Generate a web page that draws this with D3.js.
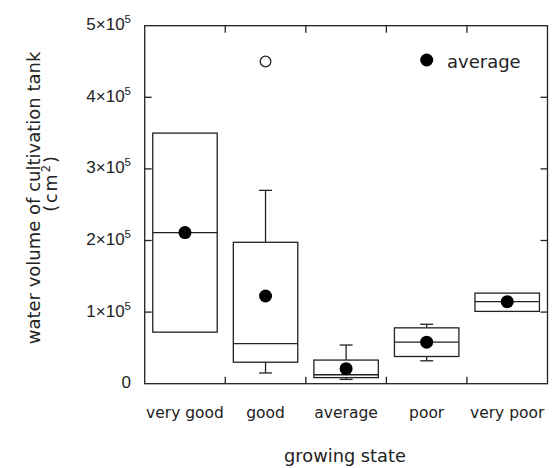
<!DOCTYPE html>
<html>
<head>
<meta charset="utf-8">
<script src="https://cdn.jsdelivr.net/npm/d3@7"></script>
<style>
  body { margin: 0; background: #fff; }
  svg text { fill: #222; }
</style>
</head>
<body>
<div id="chart"></div>
<script>
// data
var categories = ["very good", "good", "average", "poor", "very poor"];
var q1 = [72000, 30000, 8500, 38000, 101000];
var medians = [211000, 56000, 12500, 58000, 114500];
var q3 = [350000, 197500, 33000, 78000, 126500];
var whiskerLow = [72000, 15000, 6000, 32000, 101000];
var whiskerHigh = [350000, 270000, 54000, 83000, 126500];
var means = [211000, 122500, 21000, 58000, 114500];
var outlierCats = ["good"];
var outlierValues = [450000];
var yTicks = [0, 100000, 200000, 300000, 400000, 500000];

var W = 553, H = 468;
var margin = {t: 25.7, r: 5.5, b: 84.3, l: 144.7};
var width = W - margin.l - margin.r,
    height = H - margin.t - margin.b;

var svg = d3.select('#chart').append('svg')
    .attr('width', W).attr('height', H);

var plot = svg.append('g')
    .attr('transform', 'translate(' + margin.l + ',' + margin.t + ')');

var scaleX = d3.scaleBand().domain(categories).range([0, width]);
var scaleY = d3.scaleLinear().domain([0, 500000]).range([height, 0]);

var ink = '#222', sw = 1.3, tickLen = 7;
var boxW = scaleX.bandwidth() * 0.8, capW = 13;

// frame
plot.append('rect')
    .attr('width', width).attr('height', height)
    .attr('fill', 'none').attr('stroke', ink).attr('stroke-width', sw);

// inner ticks left/right
var innerY = yTicks.filter(function(d){ return d > 0 && d < 500000; });
plot.selectAll('.ytl').data(innerY).enter().append('line')
    .attr('x1', 0).attr('x2', tickLen)
    .attr('y1', scaleY).attr('y2', scaleY)
    .attr('stroke', ink).attr('stroke-width', sw);
plot.selectAll('.ytr').data(innerY).enter().append('line')
    .attr('x1', width).attr('x2', width - tickLen)
    .attr('y1', scaleY).attr('y2', scaleY)
    .attr('stroke', ink).attr('stroke-width', sw);

// ticks between categories top/bottom
var bounds = categories.slice(1).map(function(c){ return scaleX(c); });
plot.selectAll('.xtb').data(bounds).enter().append('line')
    .attr('x1', function(d){ return d; }).attr('x2', function(d){ return d; })
    .attr('y1', height).attr('y2', height - tickLen)
    .attr('stroke', ink).attr('stroke-width', sw);
plot.selectAll('.xtt').data(bounds).enter().append('line')
    .attr('x1', function(d){ return d; }).attr('x2', function(d){ return d; })
    .attr('y1', 0).attr('y2', tickLen)
    .attr('stroke', ink).attr('stroke-width', sw);

// y tick labels
var yl = svg.append('g').attr('font-family', 'Liberation Sans, Arial, sans-serif');
yTicks.forEach(function(v) {
    var t = yl.append('text')
        .attr('x', 131).attr('y', margin.t + scaleY(v) + 4.5)
        .attr('text-anchor', 'end').attr('font-size', 17);
    if (v === 0) { t.text('0'); return; }
    t.append('tspan').text((v / 100000) + '\u00d710');
    t.append('tspan').attr('font-size', 11.5).attr('dy', -7).text('5');
});

// category labels
svg.append('g').selectAll('text').data(categories).enter().append('text')
    .attr('x', function(d){ return margin.l + scaleX(d) + scaleX.bandwidth() / 2; })
    .attr('y', 418)
    .attr('text-anchor', 'middle')
    .attr('font-family', 'DejaVu Sans, sans-serif').attr('font-size', 15.5)
    .text(function(d){ return d; });

// axis titles
svg.append('text')
    .attr('x', 345).attr('y', 461.5)
    .attr('text-anchor', 'middle')
    .attr('font-family', 'DejaVu Sans, sans-serif').attr('font-size', 17.8)
    .text('growing state');

svg.append('text')
    .attr('transform', 'translate(39.5,198) rotate(-90)')
    .attr('text-anchor', 'middle')
    .attr('font-family', 'DejaVu Sans, sans-serif').attr('font-size', 18)
    .text('water volume of cultivation tank');

var unit = svg.append('text')
    .attr('transform', 'translate(57,183) rotate(-90)')
    .attr('text-anchor', 'middle')
    .attr('letter-spacing', 2)
    .attr('font-family', 'DejaVu Sans, sans-serif').attr('font-size', 17.5);
unit.append('tspan').text('(cm');
unit.append('tspan').attr('font-size', 11.5).attr('dy', -7).text('2');
unit.append('tspan').attr('dy', 7).text(')');

// boxes
var rows = categories.map(function(c, i) {
    return {cat: c, q1: q1[i], med: medians[i], q3: q3[i],
            lo: whiskerLow[i], hi: whiskerHigh[i], mean: means[i]};
});
var cx = function(d){ return scaleX(d.cat) + scaleX.bandwidth() / 2; };

var boxes = plot.selectAll('.box').data(rows).enter().append('g')
    .attr('class', 'box')
    .attr('stroke', ink).attr('stroke-width', sw).attr('fill', 'none');

// whiskers (only where they leave the box)
boxes.filter(function(d){ return d.hi > d.q3; }).each(function(d) {
    var g = d3.select(this);
    g.append('line').attr('x1', cx(d)).attr('x2', cx(d))
        .attr('y1', scaleY(d.q3)).attr('y2', scaleY(d.hi));
    g.append('line').attr('x1', cx(d) - capW / 2).attr('x2', cx(d) + capW / 2)
        .attr('y1', scaleY(d.hi)).attr('y2', scaleY(d.hi));
});
boxes.filter(function(d){ return d.lo < d.q1; }).each(function(d) {
    var g = d3.select(this);
    g.append('line').attr('x1', cx(d)).attr('x2', cx(d))
        .attr('y1', scaleY(d.q1)).attr('y2', scaleY(d.lo));
    g.append('line').attr('x1', cx(d) - capW / 2).attr('x2', cx(d) + capW / 2)
        .attr('y1', scaleY(d.lo)).attr('y2', scaleY(d.lo));
});

boxes.append('rect')
    .attr('x', function(d){ return cx(d) - boxW / 2; })
    .attr('y', function(d){ return scaleY(d.q3); })
    .attr('width', boxW)
    .attr('height', function(d){ return scaleY(d.q1) - scaleY(d.q3); })
    .attr('fill', '#fff');

boxes.append('line')
    .attr('x1', function(d){ return cx(d) - boxW / 2; })
    .attr('x2', function(d){ return cx(d) + boxW / 2; })
    .attr('y1', function(d){ return scaleY(d.med); })
    .attr('y2', function(d){ return scaleY(d.med); });

// means
plot.selectAll('.mean').data(rows).enter().append('circle')
    .attr('cx', cx).attr('cy', function(d){ return scaleY(d.mean); })
    .attr('r', 6.5).attr('fill', '#000');

// outliers
plot.selectAll('.out').data(outlierValues).enter().append('circle')
    .attr('cx', function(d, i){ return scaleX(outlierCats[i]) + scaleX.bandwidth() / 2; })
    .attr('cy', scaleY)
    .attr('r', 5.3).attr('fill', '#fff').attr('stroke', ink).attr('stroke-width', sw);

// legend
svg.append('circle').attr('cx', 426.7).attr('cy', 60).attr('r', 6.5).attr('fill', '#000');
svg.append('text').attr('x', 447).attr('y', 67.5)
    .attr('font-family', 'DejaVu Sans, sans-serif').attr('font-size', 18)
    .text('average');
</script>
</body>
</html>
